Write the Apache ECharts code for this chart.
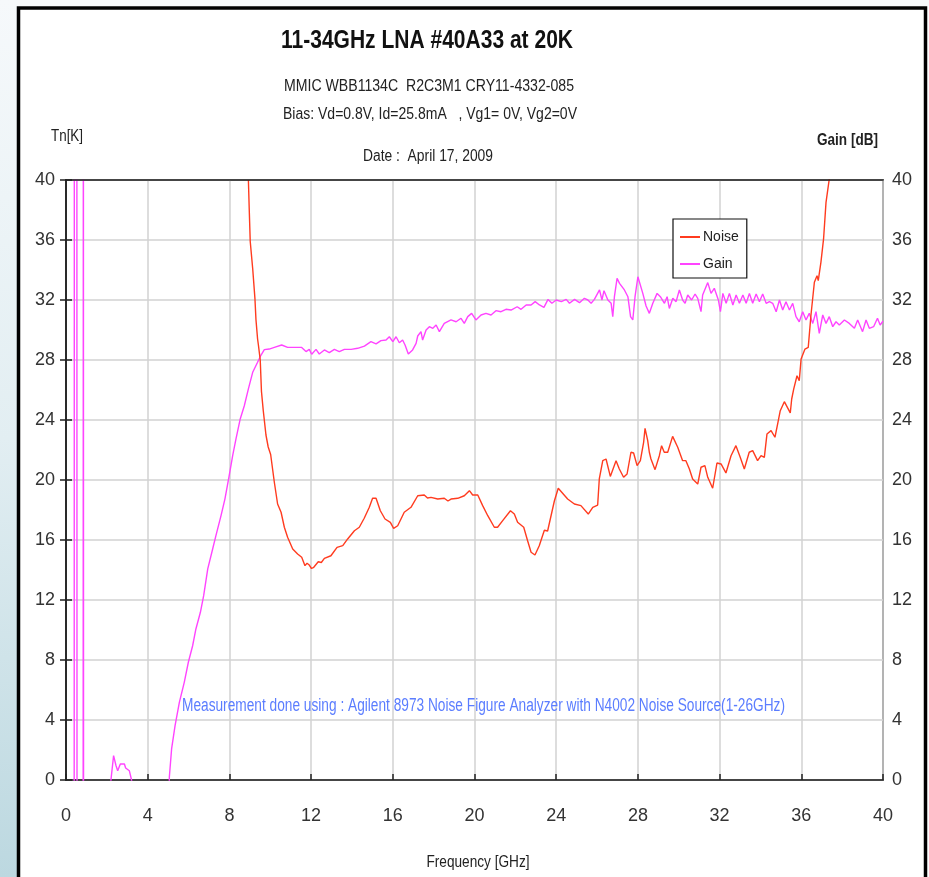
<!DOCTYPE html>
<html>
<head>
<meta charset="utf-8">
<title>11-34GHz LNA #40A33 at 20K</title>
<script src="https://cdn.jsdelivr.net/npm/echarts@6/dist/echarts.min.js"></script>
<style>
  html, body { margin: 0; padding: 0; background: #fff; }
  #chart { width: 929px; height: 877px; }
</style>
</head>
<body>
<div id="chart"></div>
<script>
// Frequency axis ticks (GHz) and shared 0..40 value ticks for Tn[K] and Gain [dB]
const freqTicks = [0, 4, 8, 12, 16, 20, 24, 28, 32, 36, 40];
const valueTicks = [0, 4, 8, 12, 16, 20, 24, 28, 32, 36, 40];

// Noise temperature Tn [K] vs frequency [GHz]
const noiseFreq = [
  8.93, 8.97, 9.02, 9.14, 9.25, 9.30, 9.38, 9.42, 9.51, 9.57, 9.66, 9.79, 9.90, 10.02, 10.20,
  10.36, 10.53, 10.69, 10.85, 11.10, 11.34, 11.54, 11.70, 11.80, 11.91, 12.02, 12.13, 12.35, 12.50,
  12.65, 12.97, 13.27, 13.55, 13.79, 14.12, 14.36, 14.60, 14.85, 15.01, 15.18, 15.39, 15.62,
  15.88, 16.04, 16.24, 16.56, 16.89, 17.22, 17.54, 17.70, 17.87, 18.20, 18.52, 18.70, 18.85, 19.18,
  19.50, 19.75, 19.91, 20.16, 20.40, 20.65, 20.97, 21.13, 21.38, 21.76, 21.95, 22.11, 22.41,
  22.60, 22.77, 22.96, 23.17, 23.42, 23.58, 23.91, 24.10, 24.56, 24.89, 25.21, 25.57, 25.79,
  26.03, 26.11, 26.28, 26.44, 26.65, 26.93, 27.09, 27.30, 27.47, 27.66, 27.79, 27.96, 28.12,
  28.28, 28.35, 28.48, 28.56, 28.64, 28.84, 29.05, 29.16, 29.29, 29.46, 29.70, 29.95, 30.19,
  30.35, 30.52, 30.68, 30.93, 31.09, 31.28, 31.42, 31.66, 31.87, 32.07, 32.31, 32.56, 32.80,
  33.01, 33.21, 33.45, 33.62, 33.86, 34.03, 34.19, 34.32, 34.52, 34.71, 34.84, 34.97, 35.17,
  35.46, 35.53, 35.63, 35.79, 35.90, 35.99, 36.18, 36.34, 36.47, 36.64, 36.77, 36.83, 36.96,
  37.09, 37.21, 37.37, 37.45
];
const noiseTemp = [
  40.0, 38.1, 35.9, 34.1, 32.1, 30.7, 29.4, 29.0, 28.0, 25.9, 24.6, 23.0, 22.2, 21.7, 19.85,
  18.4, 17.85, 16.85, 16.18, 15.4, 15.07, 14.85, 14.29, 14.45, 14.33, 14.1, 14.18, 14.55, 14.5,
  14.78, 14.95, 15.51, 15.62, 16.07, 16.62, 16.85, 17.45, 18.18, 18.78, 18.78, 17.95, 17.4,
  17.18, 16.78, 16.95, 17.85, 18.18, 18.95, 19.0, 18.8, 18.84, 18.73, 18.78, 18.6, 18.73, 18.78,
  18.95, 19.29, 19.0, 19.0, 18.29, 17.62, 16.85, 16.85, 17.29, 17.95, 17.73, 17.18, 16.85,
  15.95, 15.18, 15.0, 15.62, 16.65, 16.6, 18.6, 19.45, 18.73, 18.4, 18.29, 17.73, 18.18,
  18.33, 20.07, 21.29, 21.4, 20.24, 21.29, 20.73, 20.18, 20.4, 21.85, 21.8, 20.96, 21.29,
  22.51, 23.44, 22.62, 21.85, 21.4, 20.69, 21.62, 22.29, 21.85, 21.85, 22.91, 22.18, 21.29,
  21.29, 20.73, 20.07, 19.73, 20.85, 20.96, 20.18, 19.45, 21.13, 21.07, 20.47, 21.62, 22.29,
  21.51, 20.73, 21.85, 21.96, 21.29, 21.62, 21.51, 23.07, 23.29, 22.85, 23.73, 24.62, 25.22,
  24.47, 25.4, 26.07, 26.95, 26.62, 28.07, 28.73, 28.84, 30.95, 33.18, 33.62, 33.29, 34.51,
  36.07, 38.51, 40.07, 41.5
];

// Gain [dB] vs frequency [GHz]; readings outside 0..40 dB are clipped by the plot area
const gainFreq = [
  0.05, 0.40, 0.41, 0.53, 0.54, 0.84, 0.85, 0.86, 2.15,
  2.20, 2.33, 2.45, 2.53, 2.66, 2.86, 2.92, 2.99, 3.10, 3.21, 3.30, 5.00,
  5.06, 5.11, 5.17, 5.34, 5.55, 5.79, 5.99, 6.20, 6.36, 6.58, 6.74, 6.94, 7.18, 7.34, 7.59,
  7.78, 7.99, 8.16, 8.32, 8.53, 8.73, 8.93, 9.14, 9.38, 9.55, 9.71, 9.95, 10.20, 10.56,
  10.85, 11.17, 11.54, 11.75, 11.91, 12.03, 12.24, 12.40, 12.65, 12.89, 13.14, 13.38, 13.63,
  13.96, 14.28, 14.61, 14.93, 15.18, 15.42, 15.67, 15.83, 16.00, 16.16, 16.32, 16.48, 16.60,
  16.76, 16.97, 17.14, 17.22, 17.38, 17.46, 17.63, 17.79, 17.96, 18.12, 18.28, 18.52, 18.85,
  19.10, 19.34, 19.50, 19.67, 19.86, 20.07, 20.32, 20.56, 20.81, 21.05, 21.30, 21.54, 21.79,
  22.09, 22.28, 22.53, 22.77, 22.97, 23.18, 23.40, 23.60, 23.79, 24.00, 24.25, 24.49, 24.65,
  24.90, 25.14, 25.38, 25.55, 25.71, 25.87, 26.12, 26.24, 26.34, 26.53, 26.69, 26.77, 26.85,
  26.98, 27.10, 27.34, 27.51, 27.64, 27.75, 27.86, 28.00, 28.24, 28.40, 28.56, 28.73, 28.94,
  29.10, 29.30, 29.43, 29.54, 29.71, 29.87, 30.03, 30.19, 30.31, 30.44, 30.63, 30.80, 30.93,
  31.09, 31.17, 31.42, 31.58, 31.74, 31.94, 32.04, 32.16, 32.32, 32.48, 32.65, 32.81, 32.97,
  33.14, 33.30, 33.46, 33.62, 33.79, 33.95, 34.11, 34.28, 34.44, 34.60, 34.77, 34.93, 35.09,
  35.25, 35.42, 35.58, 35.74, 35.90, 36.07, 36.23, 36.39, 36.56, 36.72, 36.88, 37.05, 37.21,
  37.37, 37.54, 37.70, 37.86, 38.11, 38.35, 38.60, 38.76, 39.00, 39.17, 39.33, 39.54, 39.73,
  39.86, 40.00
];
const gainDb = [
  -5, -5, 60, 60, -5, -5, 60, -5, -5,
  0.0, 1.62, 0.95, 0.62, 1.07, 1.07, 0.8, 0.73, 0.62, 0.0, -5, -5,
  0.2, 0.1, 2.07, 3.62, 5.18, 6.51, 7.85, 8.95, 10.07, 11.18, 12.29, 14.07, 15.4, 16.29, 17.62,
  18.73, 20.29, 21.62, 22.73, 24.07, 24.95, 26.07, 27.18, 27.85, 28.33, 28.69, 28.73, 28.84, 29.0,
  28.84, 28.84, 28.84, 28.56, 28.71, 28.38, 28.71, 28.4, 28.67, 28.49, 28.71, 28.56, 28.71,
  28.71, 28.78, 28.93, 29.22, 29.07, 29.29, 29.33, 29.55, 29.22, 29.55, 29.15, 29.33, 29.0,
  28.4, 28.67, 29.11, 29.6, 29.89, 29.33, 30.0, 30.22, 30.11, 30.33, 29.89, 30.44, 30.67,
  30.55, 30.78, 30.44, 30.89, 31.11, 30.67, 31.0, 31.11, 31.0, 31.29, 31.22, 31.38, 31.33,
  31.55, 31.38, 31.67, 31.67, 31.89, 31.67, 31.51, 32.04, 31.78, 32.0, 31.89, 32.04, 31.78,
  32.04, 31.82, 32.11, 32.0, 31.78, 32.04, 32.67, 32.0, 32.62, 32.0, 31.78, 30.89, 32.22,
  33.44, 33.11, 32.67, 32.22, 30.89, 30.67, 32.22, 33.55, 32.44, 31.6, 31.11, 31.78, 32.44,
  32.22, 31.78, 32.22, 31.44, 32.11, 31.89, 32.67, 32.0, 31.78, 32.33, 32.0, 32.4, 32.11,
  31.22, 32.33, 33.16, 32.44, 32.78, 32.0, 31.22, 32.44, 31.78, 32.44, 31.67, 32.33, 31.78,
  32.33, 31.78, 32.44, 31.78, 32.4, 31.89, 32.4, 31.78, 31.89, 31.78, 31.22, 32.0, 31.33,
  31.89, 31.33, 31.78, 30.89, 30.55, 31.22, 30.67, 31.11, 30.44, 31.22, 29.78, 31.0, 30.44,
  30.89, 30.22, 30.55, 30.33, 30.67, 30.44, 30.11, 30.67, 29.89, 30.67, 30.11, 30.22, 30.78,
  30.33, 30.6
];

const noiseSeries = noiseFreq.map((f, i) => [f, noiseTemp[i]]);
const gainSeries = gainFreq.map((f, i) => [f, gainDb[i]]);

const FONT = '"Liberation Sans", Arial, sans-serif';
const INK = '#222';

// Narrow-face text: draw in Liberation Sans and squeeze horizontally to a target width
const measureCtx = document.createElement('canvas').getContext('2d');
function squeezed(text, font, x, y, width, align, fill) {
  measureCtx.font = font;
  const s = width / measureCtx.measureText(text).width;
  return {
    type: 'text', silent: true, z: 10,
    x: x, y: y, scaleX: s, scaleY: 1,
    style: { text: text, x: 0, y: 0, align: align, verticalAlign: 'middle', font: font, fill: fill || INK }
  };
}

const chart = echarts.init(document.getElementById('chart'), null, { renderer: 'canvas' });

const tickLabel = { fontFamily: FONT, fontSize: 18, color: '#333' };
const darkLine = { color: '#222', width: 1.5 };

chart.setOption({
  backgroundColor: 'transparent',
  animation: false,
  textStyle: { fontFamily: FONT },
  grid: {
    left: 66, right: 46, top: 180, bottom: 97,
    show: true, borderColor: '#222', borderWidth: 1.5, backgroundColor: '#fff'
  },
  legend: {
    orient: 'vertical',
    left: 673, top: 219,
    padding: [11, 8, 7, 7],
    itemGap: 13,
    itemWidth: 20, itemHeight: 2,
    icon: 'rect',
    backgroundColor: '#fff',
    borderColor: '#111', borderWidth: 1.2,
    textStyle: { fontFamily: FONT, fontSize: 14, color: INK, padding: [0, 0, 0, -2] },
    data: ['Noise', 'Gain']
  },
  xAxis: [
    {
      type: 'value', min: 0, max: 40, interval: 4,
      axisLine: { show: true, lineStyle: darkLine },
      axisTick: { show: true, inside: true, length: 6, lineStyle: darkLine },
      axisLabel: Object.assign({ margin: 27, formatter: v => freqTicks.includes(v) ? String(v) : '' }, tickLabel),
      splitLine: { show: true, lineStyle: { color: '#d2d2d2', width: 1.5 } }
    },
    {
      // plain dark edge along the top of the plot
      type: 'value', min: 0, max: 40, position: 'top', z: 5,
      axisLine: { show: true, onZero: false, lineStyle: darkLine },
      axisTick: { show: false }, axisLabel: { show: false }, splitLine: { show: false }
    }
  ],
  yAxis: [
    {
      type: 'value', min: 0, max: 40, interval: 4, position: 'left',
      axisLine: { show: true, lineStyle: darkLine },
      axisTick: { show: true, inside: true, length: 6, lineStyle: darkLine },
      axisLabel: Object.assign({ margin: 11, formatter: v => valueTicks.includes(v) ? String(v) : '' }, tickLabel),
      splitLine: { show: true, lineStyle: { color: '#d2d2d2', width: 1.5 } }
    },
    {
      type: 'value', min: 0, max: 40, interval: 4, position: 'right',
      axisLine: { show: true, lineStyle: darkLine },
      axisTick: { show: true, inside: true, length: 6, lineStyle: darkLine },
      axisLabel: Object.assign({ margin: 9, formatter: v => valueTicks.includes(v) ? String(v) : '' }, tickLabel),
      splitLine: { show: false }
    }
  ],
  series: [
    {
      name: 'Noise', type: 'line', yAxisIndex: 0,
      data: noiseSeries, symbol: 'none', clip: true,
      lineStyle: { color: '#ff3b1f', width: 1.4 },
      itemStyle: { color: '#ff3b1f' },
      z: 3
    },
    {
      name: 'Gain', type: 'line', yAxisIndex: 1,
      data: gainSeries, symbol: 'none', clip: true,
      lineStyle: { color: '#ff44ff', width: 1.4 },
      itemStyle: { color: '#ff44ff' },
      z: 2
    }
  ],
  graphic: [
    // slide background: pale blue strip on the left and a thin pale band on top
    {
      type: 'rect', z: -20, silent: true,
      shape: { x: 0, y: 0, width: 18, height: 877 },
      style: {
        fill: new echarts.graphic.LinearGradient(0, 0, 0, 1, [
          { offset: 0, color: '#f6f9fb' },
          { offset: 0.5, color: '#e2eef2' },
          { offset: 1, color: '#bcd8e0' }
        ])
      }
    },
    {
      type: 'rect', z: -20, silent: true,
      shape: { x: 18, y: 0, width: 911, height: 6 },
      style: { fill: '#f7f9fa' }
    },
    // black frame around the chart sheet
    {
      type: 'rect', z: -10, silent: true,
      shape: { x: 18.5, y: 8, width: 907, height: 880 },
      style: { fill: '#fff', stroke: '#000', lineWidth: 3.5 }
    },
    squeezed('11-34GHz LNA #40A33 at 20K', 'bold 25px ' + FONT, 427, 41, 292, 'center', '#111'),
    squeezed('MMIC WBB1134C  R2C3M1 CRY11-4332-085', '16px ' + FONT, 429, 87, 290, 'center'),
    squeezed('Bias: Vd=0.8V, Id=25.8mA   , Vg1= 0V, Vg2=0V', '16px ' + FONT, 430, 115, 294, 'center'),
    squeezed('Tn[K]', '16px ' + FONT, 67, 137, 32, 'center'),
    squeezed('Gain [dB]', 'bold 16px ' + FONT, 878, 141, 61, 'right'),
    squeezed('Date :  April 17, 2009', '16px ' + FONT, 428, 157, 130, 'center'),
    squeezed('Frequency [GHz]', '17px ' + FONT, 478, 862, 103, 'center'),
    squeezed('Measurement done using : Agilent 8973 Noise Figure Analyzer with N4002 Noise Source(1-26GHz)',
      '18px ' + FONT, 182, 706, 603, 'left', '#5b7dff')
  ]
});
</script>
</body>
</html>
